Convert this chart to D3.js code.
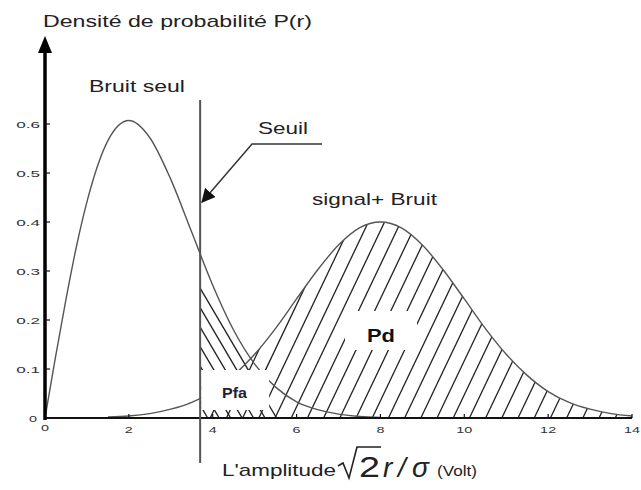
<!DOCTYPE html>
<html>
<head>
<meta charset="utf-8">
<script src="https://cdn.jsdelivr.net/npm/d3@7"></script>
<style>
  body { margin: 0; background: #fff; }
  text { font-family: Arial, "Liberation Sans", sans-serif; }
</style>
</head>
<body>
<svg id="chart" width="641" height="490"></svg>
<script>
// ---- data ----
const xTicks = [0, 2, 4, 6, 8, 10, 12, 14];
const xTickLabels = ["0", "2", "4", "6", "8", "10", "12", "14"];
const yTicks = [0.1, 0.2, 0.3, 0.4, 0.5, 0.6];
const yTickLabels = ["0.1", "0.2", "0.3", "0.4", "0.5", "0.6"];

// noise only (Rayleigh-shaped density)
const noiseR = [0, 0.25, 0.5, 0.75, 1, 1.5, 2, 2.5, 3, 3.5, 4, 4.5, 5, 5.5, 6, 6.5, 7, 7.5, 8];
const noiseP = [0, 0.124, 0.242, 0.350, 0.441, 0.566, 0.607, 0.572, 0.487, 0.379, 0.271, 0.179, 0.110, 0.063, 0.033, 0.017, 0.008, 0.003, 0.001];

// signal + noise
const signalR = [1.5, 2, 2.5, 3, 3.5, 4, 4.5, 5, 5.5, 6, 6.5, 7, 7.5, 8, 8.5, 9, 9.5, 10, 10.5, 11, 11.5, 12, 12.5, 13, 13.5, 14];
const signalP = [0.002, 0.004, 0.009, 0.018, 0.032, 0.054, 0.087, 0.130, 0.183, 0.243, 0.302, 0.353, 0.388, 0.400, 0.388, 0.353, 0.302, 0.243, 0.183, 0.130, 0.087, 0.054, 0.032, 0.018, 0.009, 0.004];

const threshold = 3.7;

const yTitle = "Densité de probabilité P(r)";
const noiseLabel = "Bruit seul";
const signalLabel = "signal+ Bruit";
const thresholdLabel = "Seuil";
const pfaLabel = "Pfa";
const pdLabel = "Pd";

// ---- layout ----
const svg = d3.select("#chart");
const x = d3.scaleLinear().domain([0, 14]).range([45, 632]);
const y = d3.scaleLinear().domain([0, 0.6]).range([418, 124]);
const curveColor = "#555";
const ink = "#222";

const noisePts = noiseR.map((r, i) => [r, noiseP[i]]);
const signalPts = signalR.map((r, i) => [r, signalP[i]]);

const line = d3.line().x(d => x(d[0])).y(d => y(d[1])).curve(d3.curveMonotoneX);
const area = d3.area().x(d => x(d[0])).y0(y(0)).y1(d => y(d[1])).curve(d3.curveMonotoneX);

// stretch helper: widen glyphs horizontally to a target width
function fitWidth(sel, w) {
  sel.attr("textLength", w).attr("lengthAdjust", "spacingAndGlyphs");
}
function stretch(sel, f) {
  sel.each(function () {
    const w = this.getComputedTextLength();
    d3.select(this).attr("textLength", w * f).attr("lengthAdjust", "spacingAndGlyphs");
  });
}

const defs = svg.append("defs");
defs.append("clipPath").attr("id", "rightOfThreshold")
  .append("rect").attr("x", x(threshold)).attr("y", 0)
  .attr("width", 641 - x(threshold)).attr("height", y(0) - 0);
defs.append("clipPath").attr("id", "underNoise")
  .append("path").attr("d", area(noisePts));
defs.append("clipPath").attr("id", "underSignal")
  .append("path").attr("d", area(signalPts));

// ---- hatching: false alarm region (under noise, right of threshold) ----
const pfaHatch = svg.append("g").attr("clip-path", "url(#rightOfThreshold)")
  .append("g").attr("clip-path", "url(#underNoise)");
const pfaSlope = 1.7, pfaStep = 19.5, pfaStart = y(0.265);
d3.range(0, 8).forEach(k => {
  const y0 = pfaStart + k * pfaStep;
  pfaHatch.append("line")
    .attr("x1", x(threshold)).attr("y1", y0)
    .attr("x2", x(threshold) + 250).attr("y2", y0 + 250 * pfaSlope)
    .attr("stroke", ink).attr("stroke-width", 1.3);
});

// ---- hatching: detection region (under signal, right of threshold) ----
const pdHatch = svg.append("g").attr("clip-path", "url(#rightOfThreshold)")
  .append("g").attr("clip-path", "url(#underSignal)");
const pdSlope = 2.1, pdStep = 16.2, pdPhase = x(8) + 8;
const hLen = 260;
for (let xb = pdPhase - pdStep * 20; xb < 650; xb += pdStep) {
  pdHatch.append("line")
    .attr("x1", xb).attr("y1", y(0))
    .attr("x2", xb + hLen / pdSlope).attr("y2", y(0) - hLen)
    .attr("stroke", ink).attr("stroke-width", 1.3);
}

// ---- curves ----
svg.append("path").attr("d", line(noisePts))
  .attr("fill", "none").attr("stroke", curveColor).attr("stroke-width", 1.4);
svg.append("path").attr("d", line(signalPts))
  .attr("fill", "none").attr("stroke", curveColor).attr("stroke-width", 1.4);

// ---- label boxes ----
svg.append("rect").attr("x", x(threshold) + 1).attr("y", 370).attr("width", 68).attr("height", 40).attr("fill", "#fff");
svg.append("rect").attr("x", 345).attr("y", 311).attr("width", 72).attr("height", 39).attr("fill", "#fff");

svg.append("text").text(pfaLabel).attr("x", 222).attr("y", 398)
  .attr("font-size", 14).attr("font-weight", "bold").attr("fill", "#223")
  .call(fitWidth, 25);
svg.append("text").text(pdLabel).attr("x", 367).attr("y", 342)
  .attr("font-size", 19).attr("font-weight", "bold").attr("fill", "#111")
  .call(fitWidth, 28);

// ---- axes ----
// x axis
svg.append("line").attr("x1", x(0)).attr("x2", x(14)).attr("y1", y(0)).attr("y2", y(0))
  .attr("stroke", "#111").attr("stroke-width", 2);
svg.append("g").selectAll("line").data(xTicks).join("line")
  .attr("x1", d => x(d)).attr("x2", d => x(d)).attr("y1", y(0)).attr("y2", y(0) - 4)
  .attr("stroke", "#111").attr("stroke-width", 1.2);
svg.append("g").selectAll("text").data(xTicks).join("text")
  .text((d, i) => xTickLabels[i])
  .attr("x", d => x(d)).attr("y", (d, i) => i === 0 ? 431 : 433)
  .attr("text-anchor", "middle").attr("font-size", 9).attr("fill", "#333")
  .call(stretch, 1.6);

// y axis with arrow
svg.append("line").attr("x1", x(0)).attr("x2", x(0)).attr("y1", y(0) + 2).attr("y2", 50)
  .attr("stroke", "#000").attr("stroke-width", 3.5);
svg.append("path")
  .attr("d", `M${x(0)},36 L${x(0) + 7},53 L${x(0) - 7},53 Z`)
  .attr("fill", "#000");
svg.append("g").selectAll("line").data(yTicks).join("line")
  .attr("x1", x(0)).attr("x2", x(0) + 5).attr("y1", d => y(d)).attr("y2", d => y(d))
  .attr("stroke", "#111").attr("stroke-width", 1.2);
svg.append("g").selectAll("text").data(yTicks).join("text")
  .text((d, i) => yTickLabels[i])
  .attr("x", 40).attr("y", d => y(d) + 3.5)
  .attr("text-anchor", "end").attr("font-size", 9).attr("fill", "#333")
  .call(stretch, 1.9);
svg.append("text").text("0").attr("x", 37).attr("y", y(0) + 3.5)
  .attr("text-anchor", "end").attr("font-size", 9).attr("fill", "#333")
  .call(stretch, 1.6);

// threshold line
svg.append("line").attr("x1", x(threshold)).attr("x2", x(threshold)).attr("y1", 100).attr("y2", 463)
  .attr("stroke", "#555").attr("stroke-width", 2);

// threshold leader with arrow
defs.append("marker").attr("id", "arrowHead").attr("viewBox", "0 0 10 10")
  .attr("refX", 9).attr("refY", 5).attr("markerWidth", 14).attr("markerHeight", 14)
  .attr("markerUnits", "userSpaceOnUse").attr("orient", "auto")
  .append("path").attr("d", "M0,0 L10,5 L0,10 Z").attr("fill", "#111");
svg.append("polyline")
  .attr("points", `322,144 252,144 ${x(threshold) + 2},202`)
  .attr("fill", "none").attr("stroke", "#333").attr("stroke-width", 1.5)
  .attr("marker-end", "url(#arrowHead)");

// ---- text labels ----
svg.append("text").text(yTitle).attr("x", 43).attr("y", 27)
  .attr("font-size", 17).attr("fill", ink).call(fitWidth, 269);
svg.append("text").text(noiseLabel).attr("x", 89).attr("y", 92)
  .attr("font-size", 17).attr("fill", ink).call(fitWidth, 96);
svg.append("text").text(thresholdLabel).attr("x", 258).attr("y", 134)
  .attr("font-size", 17).attr("fill", ink).call(fitWidth, 50);
svg.append("text").text(signalLabel).attr("x", 312).attr("y", 205)
  .attr("font-size", 17).attr("fill", ink).call(fitWidth, 125);

// x axis title: L'amplitude √2 r/σ (Volt)
const xt = svg.append("g").attr("fill", ink);
xt.append("text").text("L'amplitude").attr("x", 222).attr("y", 476)
  .attr("font-size", 17).call(fitWidth, 114);
xt.append("path")
  .attr("d", "M338,466 L343,463 L349,478 L357,447 L381,447")
  .attr("fill", "none").attr("stroke", ink).attr("stroke-width", 1.6);
xt.append("text").text("2").attr("x", 359).attr("y", 477)
  .attr("font-size", 30).call(fitWidth, 21);
xt.append("text").text("r").attr("x", 383).attr("y", 477)
  .attr("font-family", "'Liberation Serif', serif").attr("font-style", "italic").attr("font-size", 28);
xt.append("text").text("/").attr("x", 398).attr("y", 477)
  .attr("font-family", "'Liberation Serif', serif").attr("font-style", "italic").attr("font-size", 28);
xt.append("text").text("σ").attr("x", 412).attr("y", 477)
  .attr("font-family", "'Liberation Serif', serif").attr("font-style", "italic").attr("font-size", 28);
xt.append("text").text("(Volt)").attr("x", 437).attr("y", 476)
  .attr("font-size", 15).call(fitWidth, 40);
</script>
</body>
</html>
